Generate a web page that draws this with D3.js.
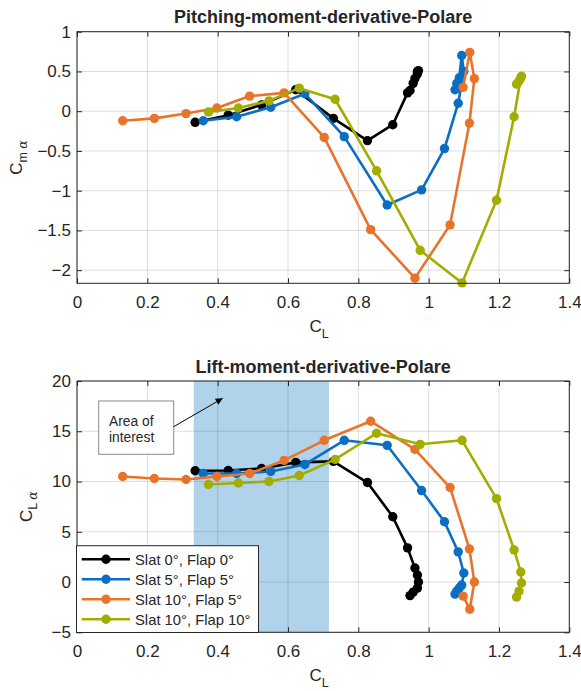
<!DOCTYPE html>
<html lang="en">
<head>
<meta charset="UTF-8"/>
<title>Polare</title>
<script src="https://d3js.org/d3.v7.min.js"></script>
<style>
  body { margin: 0; background: #fff; }
  text { font-family: "Liberation Sans", Arial, sans-serif; fill: #262626; }
</style>
</head>
<body>
<script>
    // series labels + colours
    var seriesNames = ["Slat 0°, Flap 0°", "Slat 5°, Flap 5°", "Slat 10°, Flap 5°", "Slat 10°, Flap 10°"];
    var seriesColors = ["#000000", "#0a6ec4", "#e8732a", "#a3ad00"];

    // Slat 0, Flap 0
    var cl_s0f0  = [0.336, 0.430, 0.525, 0.622, 0.729, 0.826, 0.898, 0.940, 0.961, 0.968, 0.971, 0.968, 0.956, 0.947];
    var cm_s0f0  = [-0.14, -0.05, 0.08, 0.27, -0.09, -0.37, -0.17, 0.23, 0.41, 0.47, 0.51, 0.50, 0.35, 0.26];
    var cla_s0f0 = [11.07, 11.1, 11.3, 11.9, 12.0, 9.9, 6.5, 3.4, 1.4, 0.7, 0.0, -0.6, -1.0, -1.35];

    // Slat 5, Flap 5
    var cl_s5f5  = [0.359, 0.454, 0.551, 0.648, 0.760, 0.882, 0.980, 1.045, 1.084, 1.100, 1.094, 1.087, 1.080, 1.075];
    var cm_s5f5  = [-0.12, -0.07, 0.05, 0.22, -0.32, -1.18, -0.99, -0.47, 0.10, 0.50, 0.70, 0.42, 0.35, 0.27];
    var cla_s5f5 = [10.8, 10.8, 11.0, 11.7, 14.1, 13.6, 9.1, 6.0, 3.0, 0.9, -0.3, -0.6, -0.9, -1.2];

    // Slat 10, Flap 5
    var cl_s10f5  = [0.130, 0.220, 0.310, 0.398, 0.491, 0.589, 0.703, 0.835, 0.961, 1.061, 1.116, 1.130, 1.117, 1.098];
    var cm_s10f5  = [-0.12, -0.09, -0.03, 0.04, 0.19, 0.23, -0.33, -1.49, -2.10, -1.43, -0.15, 0.41, 0.74, 0.30];
    var cla_s10f5 = [10.5, 10.3, 10.2, 10.5, 10.8, 12.1, 14.1, 16.0, 13.2, 9.4, 3.3, 0.0, -2.7, -1.4];

    // Slat 10, Flap 10
    var cl_s10f10  = [0.374, 0.459, 0.546, 0.632, 0.734, 0.852, 0.976, 1.095, 1.193, 1.243, 1.262, 1.264, 1.257, 1.250];
    var cm_s10f10  = [-0.01, 0.04, 0.13, 0.29, 0.15, -0.75, -1.75, -2.16, -1.12, -0.07, 0.42, 0.44, 0.38, 0.34];
    var cla_s10f10 = [9.7, 9.85, 10.0, 10.6, 12.2, 14.8, 13.7, 14.1, 8.3, 3.2, 1.0, -0.1, -0.9, -1.5];

    var clAll  = [cl_s0f0, cl_s5f5, cl_s10f5, cl_s10f10];
    var cmAll  = [cm_s0f0, cm_s5f5, cm_s10f5, cm_s10f10];
    var claAll = [cla_s0f0, cla_s5f5, cla_s10f5, cla_s10f10];

    // ticks
    var xTicks = [0, 0.2, 0.4, 0.6, 0.8, 1, 1.2, 1.4];
    var cmTicks = [-2, -1.5, -1, -0.5, 0, 0.5, 1];
    var claTicks = [-5, 0, 5, 10, 15, 20];

    // area of interest (CL range)
    var interestRange = [0.332, 0.7165];

    var W = 581, H = 691;
    var left = 77, right = 569.3;

    var svg = d3.select("body").append("svg")
        .attr("width", W)
        .attr("height", H);

    var defs = svg.append("defs");
    defs.append("marker")
        .attr("id", "arrowhead")
        .attr("viewBox", "0 0 10 10")
        .attr("refX", 10).attr("refY", 5)
        .attr("markerWidth", 9).attr("markerHeight", 7)
        .attr("markerUnits", "userSpaceOnUse")
        .attr("orient", "auto")
        .append("path")
        .attr("d", "M0,0 L10,5 L0,10 Z")
        .attr("fill", "#000");

    var xScale = d3.scaleLinear().domain([0, 1.4]).range([left, right]);

    function drawPanel(top, bottom, yDomain, yTicks, yVals, title, subLabel, yLabelX, beforeGrid) {
        var yScale = d3.scaleLinear().domain(yDomain).range([bottom, top]);
        var g = svg.append("g");

        g.append("rect")
            .attr("x", left).attr("y", top)
            .attr("width", right - left).attr("height", bottom - top)
            .attr("fill", "#fff");

        if (beforeGrid) beforeGrid(g, yScale);

        // grid
        g.selectAll(".gx").data(xTicks).enter().append("line")
            .attr("x1", function(d) { return xScale(d); })
            .attr("x2", function(d) { return xScale(d); })
            .attr("y1", top).attr("y2", bottom)
            .attr("stroke", "#262626").attr("stroke-opacity", 0.15).attr("stroke-width", 1);
        g.selectAll(".gy").data(yTicks).enter().append("line")
            .attr("x1", left).attr("x2", right)
            .attr("y1", function(d) { return yScale(d); })
            .attr("y2", function(d) { return yScale(d); })
            .attr("stroke", "#262626").attr("stroke-opacity", 0.15).attr("stroke-width", 1);

        // data
        for (var s = 0; s < clAll.length; s++) {
            var pts = clAll[s].map(function(c, i) { return [c, yVals[s][i]]; });
            var line = d3.line()
                .x(function(d) { return xScale(d[0]); })
                .y(function(d) { return yScale(d[1]); });
            g.append("path")
                .datum(pts)
                .attr("d", line)
                .attr("fill", "none")
                .attr("stroke", seriesColors[s])
                .attr("stroke-width", 2.6)
                .attr("stroke-linejoin", "round");
            g.selectAll(".m" + s).data(pts).enter().append("circle")
                .attr("cx", function(d) { return xScale(d[0]); })
                .attr("cy", function(d) { return yScale(d[1]); })
                .attr("r", 4.7)
                .attr("fill", seriesColors[s]);
        }

        // axes
        var fmt = function(d) { return d3.format("~g")(d); };
        var xb = g.append("g").attr("transform", "translate(0," + bottom + ")")
            .call(d3.axisBottom(xScale).tickValues(xTicks).tickFormat(fmt)
                .tickSizeInner(-5).tickSizeOuter(0).tickPadding(13));
        var yl = g.append("g").attr("transform", "translate(" + left + ",0)")
            .call(d3.axisLeft(yScale).tickValues(yTicks).tickFormat(fmt)
                .tickSizeInner(-5).tickSizeOuter(0).tickPadding(6));
        var xt = g.append("g").attr("transform", "translate(0," + top + ")")
            .call(d3.axisTop(xScale).tickValues(xTicks).tickFormat("")
                .tickSizeInner(-5).tickSizeOuter(0));
        var yr = g.append("g").attr("transform", "translate(" + right + ",0)")
            .call(d3.axisRight(yScale).tickValues(yTicks).tickFormat("")
                .tickSizeInner(-5).tickSizeOuter(0));
        [xb, yl, xt, yr].forEach(function(a) {
            a.select(".domain").remove();
            a.selectAll("line").attr("stroke", "#262626");
            a.selectAll("text").attr("font-size", 17).attr("fill", "#262626")
                .attr("font-family", "Liberation Sans, Arial, sans-serif");
        });

        g.append("rect")
            .attr("x", left).attr("y", top)
            .attr("width", right - left).attr("height", bottom - top)
            .attr("fill", "none").attr("stroke", "#262626").attr("stroke-width", 1);

        // title
        g.append("text")
            .attr("x", (left + right) / 2).attr("y", top - 8.5)
            .attr("text-anchor", "middle")
            .attr("font-size", 18).attr("font-weight", "bold")
            .attr("fill", "#000")
            .text(title);

        // x label
        var xl = g.append("text")
            .attr("x", (left + right) / 2 - 4).attr("y", bottom + 49)
            .attr("text-anchor", "middle")
            .attr("font-size", 17);
        xl.append("tspan").text("C");
        xl.append("tspan").attr("dy", 6).attr("font-size", 12.5).text("L");

        // y label
        var yLab = g.append("text")
            .attr("transform", "translate(" + yLabelX + "," + ((top + bottom) / 2) + ") rotate(-90)")
            .attr("text-anchor", "middle")
            .attr("font-size", 17);
        yLab.append("tspan").text("C");
        yLab.append("tspan").attr("dy", 5).attr("font-size", 12.5).text(subLabel[0] + " ");
        yLab.append("tspan").attr("font-size", 12.5).attr("font-style", "italic")
            .attr("font-family", "DejaVu Serif, serif").text(subLabel[1]);

        return { g: g, y: yScale };
    }

    drawPanel(31.7, 283.3, [-2.165, 1], cmTicks, cmAll,
        "Pitching-moment-derivative-Polare", ["m", "α"], 22);

    drawPanel(381, 632.3, [-5, 20], claTicks, claAll,
        "Lift-moment-derivative-Polare", ["L", "α"], 32,
        function(g, yScale) {
            g.append("rect")
                .attr("x", xScale(interestRange[0]))
                .attr("y", 381)
                .attr("width", xScale(interestRange[1]) - xScale(interestRange[0]))
                .attr("height", 632.3 - 381)
                .attr("fill", "#0072bd")
                .attr("fill-opacity", 0.31);
        });

    // annotation
    var ann = svg.append("g");
    ann.append("rect")
        .attr("x", 98.7).attr("y", 401)
        .attr("width", 75).attr("height", 53.3)
        .attr("fill", "#fff").attr("stroke", "#8a8a8a").attr("stroke-width", 1);
    ann.append("text").attr("x", 109).attr("y", 425.5)
        .attr("font-family", "DejaVu Sans, sans-serif").attr("font-size", 13.8)
        .text("Area of");
    ann.append("text").attr("x", 109).attr("y", 442)
        .attr("font-family", "DejaVu Sans, sans-serif").attr("font-size", 13.8)
        .text("interest");
    ann.append("line")
        .attr("x1", 173.7).attr("y1", 426.7)
        .attr("x2", 222.7).attr("y2", 398.3)
        .attr("stroke", "#000").attr("stroke-width", 1)
        .attr("marker-end", "url(#arrowhead)");

    // legend
    var leg = svg.append("g");
    leg.append("rect")
        .attr("x", 76.5).attr("y", 545.7)
        .attr("width", 182).attr("height", 86.8)
        .attr("fill", "#fff").attr("stroke", "#262626").attr("stroke-width", 1);
    seriesNames.forEach(function(name, i) {
        var yy = 559.3 + i * 20;
        leg.append("line")
            .attr("x1", 81.7).attr("x2", 130)
            .attr("y1", yy).attr("y2", yy)
            .attr("stroke", seriesColors[i]).attr("stroke-width", 2.6);
        leg.append("circle")
            .attr("cx", 106).attr("cy", yy).attr("r", 4.7)
            .attr("fill", seriesColors[i]);
        leg.append("text")
            .attr("x", 135).attr("y", yy + 5.3)
            .attr("font-size", 14.8)
            .text(name);
    });
</script>
</body>
</html>
